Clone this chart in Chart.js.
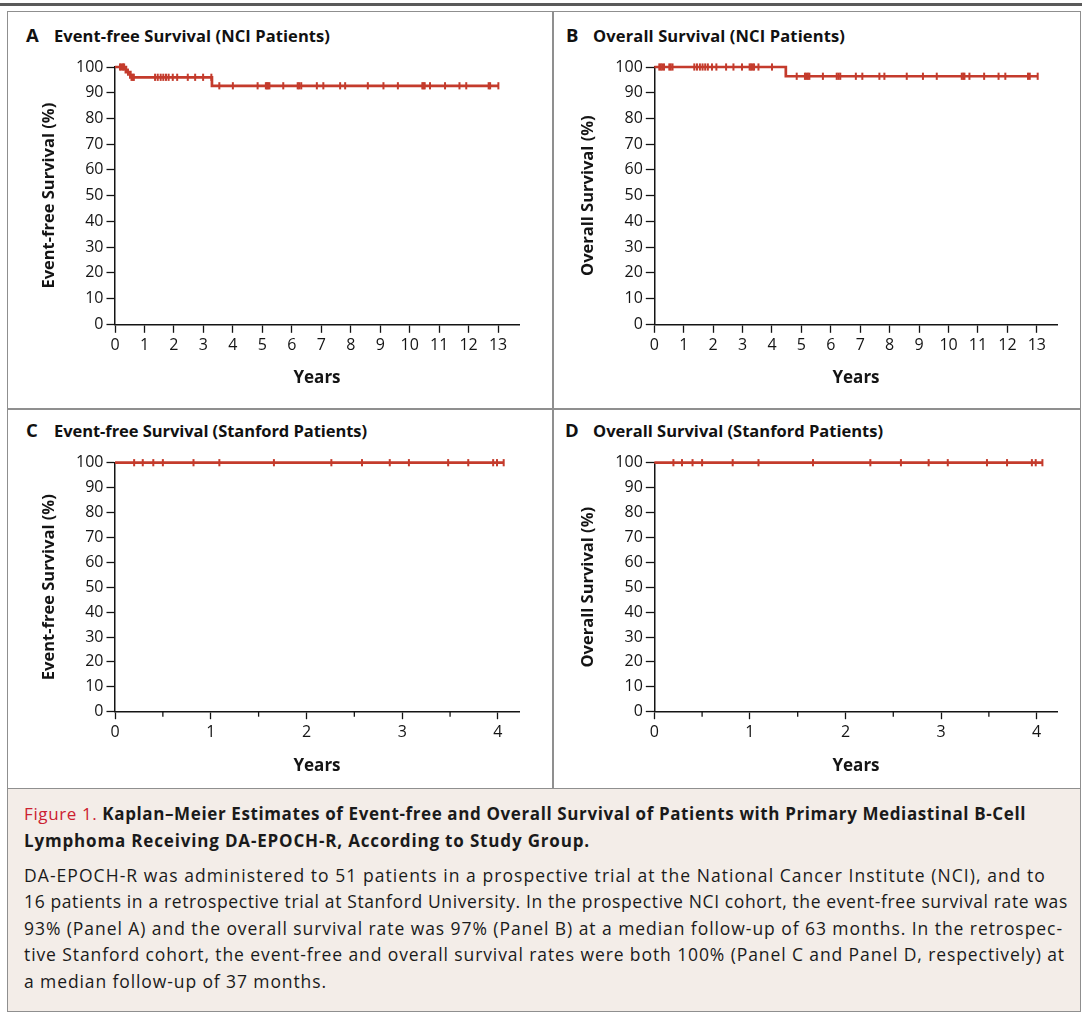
<!DOCTYPE html>
<html>
<head>
<meta charset="utf-8">
<script src="https://cdn.jsdelivr.net/npm/chart.js@4.4.1/dist/chart.umd.min.js"></script>
<style>
html,body{margin:0;padding:0;background:#fff;}
body{width:1082px;height:1012px;position:relative;overflow:hidden;font-family:"Open Sans",Lato,sans-serif;color:#111;}
#topbar{position:absolute;left:0;top:3px;width:1082px;height:3px;background:#5a5a5a;}
#frame{position:absolute;left:7px;top:11px;width:1074px;height:779px;border:1.5px solid #8f8f8f;box-sizing:border-box;}
#vdiv{position:absolute;left:552px;top:11px;width:2px;height:778px;background:#8f8f8f;}
#hdiv{position:absolute;left:7px;top:408px;width:1074px;height:2px;background:#8f8f8f;}
.ptitle{position:absolute;font-weight:700;font-size:16.5px;line-height:20px;white-space:nowrap;}
.ptitle .lt{font-size:18.5px;position:absolute;left:0;top:-1px;}
.ptitle .tx{position:absolute;white-space:nowrap;}
canvas{position:absolute;}
#caption{position:absolute;left:7px;top:788px;width:1074px;height:224px;background:#f3ede8;border:1.5px solid #8f8f8f;box-sizing:border-box;}
.cl{position:absolute;left:24px;font-size:17.5px;line-height:20px;white-space:nowrap;color:#1a1a1a;}
.hd{font-weight:700;font-size:17px;}
.red{color:#cc2131;font-weight:400;}
</style>
</head>
<body>
<div id="topbar"></div>
<div id="frame"></div>
<div id="vdiv"></div>
<div id="hdiv"></div>

<div class="ptitle" style="left:26px;top:26px;"><span class="lt">A</span><span class="tx" style="left:28px;" data-w="276">Event-free Survival (NCI Patients)</span></div>
<div class="ptitle" style="left:566px;top:26px;"><span class="lt">B</span><span class="tx" style="left:27px;" data-w="252">Overall Survival (NCI Patients)</span></div>
<div class="ptitle" style="left:26px;top:421px;"><span class="lt">C</span><span class="tx" style="left:28px;" data-w="313">Event-free Survival (Stanford Patients)</span></div>
<div class="ptitle" style="left:565px;top:421px;"><span class="lt">D</span><span class="tx" style="left:28px;" data-w="290">Overall Survival (Stanford Patients)</span></div>

<canvas id="cA" width="535" height="350" style="left:12px;top:50px;"></canvas>
<canvas id="cB" width="527" height="350" style="left:552px;top:50px;"></canvas>
<canvas id="cC" width="535" height="343" style="left:12px;top:445px;"></canvas>
<canvas id="cD" width="527" height="343" style="left:552px;top:445px;"></canvas>

<div id="caption"></div>
<div class="cl hd" style="top:804px;" data-w="1002"><span class="red">Figure 1.</span> Kaplan–Meier Estimates of Event-free and Overall Survival of Patients with Primary Mediastinal B-Cell</div>
<div class="cl hd" style="top:831px;" data-w="566">Lymphoma Receiving DA-EPOCH-R, According to Study Group.</div>
<div class="cl" style="top:865px;" data-w="1022">DA-EPOCH-R was administered to 51 patients in a prospective trial at the National Cancer Institute (NCI), and to</div>
<div class="cl" style="top:891px;" data-w="1044">16 patients in a retrospective trial at Stanford University. In the prospective NCI cohort, the event-free survival rate was</div>
<div class="cl" style="top:918px;" data-w="1039">93% (Panel A) and the overall survival rate was 97% (Panel B) at a median follow-up of 63 months. In the retrospec-</div>
<div class="cl" style="top:944px;" data-w="1041">tive Stanford cohort, the event-free and overall survival rates were both 100% (Panel C and Panel D, respectively) at</div>
<div class="cl" style="top:971px;" data-w="303">a median follow-up of 37 months.</div>

<script>
// ---------- DATA ----------
const yTicks = [0, 10, 20, 30, 40, 50, 60, 70, 80, 90, 100];
const xTicksNCI = [0, 1, 2, 3, 4, 5, 6, 7, 8, 9, 10, 11, 12, 13];
const xTicksStanford = [0, 1, 2, 3, 4];
const xMinorTicksStanford = [0.5, 1.5, 2.5, 3.5];

// Panel A: event-free survival, NCI (step times in years, survival %)
const aStepYears = [0, 0.37, 0.52, 3.29, 13.01];
const aSurvival  = [100, 98.0, 96.0, 92.7, 92.7];
const aCensorYears = [0.17, 0.22, 0.27, 0.31, 0.44, 0.56, 0.60, 0.64,
  1.36, 1.45, 1.55, 1.64, 1.73, 1.82, 1.96, 2.11, 2.47, 2.72, 2.99, 3.27,
  3.54, 4.00, 4.84, 5.12, 5.16, 5.20, 5.24, 5.71, 6.20, 6.25, 6.32, 6.85,
  7.07, 7.64, 7.81, 8.58, 9.11, 9.60, 10.43, 10.47, 10.51, 10.69, 11.20,
  11.69, 11.92, 12.68, 12.73, 13.01];

// Panel B: overall survival, NCI
const bStepYears = [0, 4.47, 13.03];
const bSurvival  = [100, 96.4, 96.4];
const bCensorYears = [0.17, 0.22, 0.27, 0.33, 0.51, 0.56, 0.62,
  1.36, 1.45, 1.55, 1.64, 1.73, 1.82, 1.96, 2.11, 2.44, 2.69, 2.98,
  3.24, 3.29, 3.34, 3.39, 3.54, 4.00,
  4.84, 5.12, 5.17, 5.22, 5.27, 5.73, 6.20, 6.26, 6.32, 6.85, 7.07, 7.65,
  7.82, 8.58, 9.13, 9.60, 10.45, 10.50, 10.54, 10.71, 11.21, 11.70, 11.93,
  12.70, 12.76, 13.03];

// Panel C: event-free survival, Stanford
const cStepYears = [0, 4.06];
const cSurvival  = [100, 100];
const cCensorYears = [0.20, 0.29, 0.40, 0.50, 0.82, 1.09, 1.66, 2.26, 2.58,
  2.87, 3.07, 3.48, 3.69, 3.95, 3.99, 4.06];

// Panel D: overall survival, Stanford
const dStepYears = [0, 4.06];
const dSurvival  = [100, 100];
const dCensorYears = [0.20, 0.29, 0.40, 0.50, 0.82, 1.09, 1.66, 2.26, 2.58,
  2.87, 3.07, 3.48, 3.69, 3.95, 3.99, 4.06];

// ---------- TEXT FITTING ----------
document.querySelectorAll('[data-w]').forEach(el => {
  const target = parseFloat(el.dataset.w);
  el.style.letterSpacing = '0px';
  const w = el.getBoundingClientRect().width;
  const n = el.textContent.length;
  el.style.letterSpacing = ((target - w) / n).toFixed(3) + 'px';
});

// ---------- DRAWING ----------
const RED = '#c43b2c';
const INK = '#141414';
const FONT = '"Open Sans", Lato, sans-serif';

function levelAt(steps, surv, t) {
  let v = surv[0];
  for (let i = 0; i < steps.length; i++) if (steps[i] <= t) v = surv[i];
  return v;
}

const minorTicks = {
  id: 'minorTicks',
  afterDraw(chart, args, opts) {
    if (!opts || !opts.values || !opts.values.length) return;
    const s = chart.scales.x, ctx = chart.ctx;
    ctx.save();
    ctx.strokeStyle = INK; ctx.lineWidth = 1.3;
    opts.values.forEach(v => {
      const px = s.getPixelForValue(v);
      ctx.beginPath(); ctx.moveTo(px, s.top); ctx.lineTo(px, s.top + opts.len); ctx.stroke();
    });
    ctx.restore();
  }
};

function kmChart(id, p) {
  const cv = document.getElementById(id);
  const cLeft = parseFloat(cv.style.left), cTop = parseFloat(cv.style.top);
  const cW = cv.width, cH = cv.height;
  const curve = p.steps.map((t, i) => ({x: t, y: p.surv[i]}));
  const censor = p.censor.map(t => ({x: t, y: levelAt(p.steps, p.surv, t)}));
  const titleSize = 16.5, titleLH = titleSize * 1.2;
  new Chart(cv, {
    type: 'line',
    data: {
      datasets: [
        {data: curve, stepped: true, borderColor: RED, borderWidth: 2.7,
         pointRadius: 0, fill: false, clip: false, order: 2},
        {data: censor, showLine: false, pointStyle: 'line', pointRotation: 90,
         pointRadius: 3.6, pointBorderColor: RED, pointBackgroundColor: RED,
         pointBorderWidth: 2, clip: false, order: 1}
      ]
    },
    options: {
      responsive: false, animation: false, devicePixelRatio: 1,
      layout: {padding: {left: 0, top: p.T - cTop, right: cLeft + cW - p.R, bottom: 0}},
      plugins: {legend: {display: false}, tooltip: {enabled: false},
                minorTicks: {values: p.minor || [], len: 5}},
      scales: {
        x: {
          type: 'linear', min: 0, max: p.xMax,
          afterBuildTicks: s => { s.ticks = p.xTicks.map(v => ({value: v})); },
          afterFit: s => { s.height = cTop + cH - p.B; },
          grid: {display: true, drawOnChartArea: false, drawTicks: true, tickLength: p.tickLen,
                 tickWidth: 1.3, tickColor: INK},
          border: {display: true, color: INK, width: 1.5},
          ticks: {autoSkip: false, maxRotation: 0, minRotation: 0, padding: 11.5 - p.tickLen, color: INK,
                  font: {family: FONT, size: 16}, callback: v => String(v)},
          title: {display: true, text: 'Years', color: INK,
                  font: {family: FONT, size: 17, weight: 'bold'},
                  padding: {top: 0, bottom: (cTop + cH - p.yearsY) - 17 * 1.2 / 2}}
        },
        y: {
          type: 'linear', min: 0, max: 100,
          afterBuildTicks: s => { s.ticks = yTicks.map(v => ({value: v})); },
          afterFit: s => { s.width = p.L - cLeft; },
          grid: {display: true, drawOnChartArea: false, drawTicks: true, tickLength: 8.5,
                 tickWidth: 1.3, tickColor: INK},
          border: {display: true, color: INK, width: 1.5},
          ticks: {autoSkip: false, padding: 3, color: INK,
                  font: {family: FONT, size: 16}, callback: v => String(v)},
          title: {display: true, text: p.yTitle, color: INK,
                  font: {family: FONT, size: titleSize, weight: 'bold'},
                  padding: {top: (p.yTitleX - cLeft) - titleLH / 2, bottom: 0}}
        }
      }
    },
    plugins: [minorTicks]
  });
}

kmChart('cA', {steps: aStepYears, surv: aSurvival, censor: aCensorYears,
  xTicks: xTicksNCI, xMax: 13.71, L: 115, R: 519, T: 67, B: 324.3, tickLen: 8.5,
  yearsY: 378, yTitleX: 49, yTitle: 'Event-free Survival (%)'});
kmChart('cB', {steps: bStepYears, surv: bSurvival, censor: bCensorYears,
  xTicks: xTicksNCI, xMax: 13.71, L: 654.3, R: 1057.7, T: 67, B: 324.3, tickLen: 8.5,
  yearsY: 378, yTitleX: 588.3, yTitle: 'Overall Survival (%)'});
kmChart('cC', {steps: cStepYears, surv: cSurvival, censor: cCensorYears,
  xTicks: xTicksStanford, minor: xMinorTicksStanford, xMax: 4.22, L: 115, R: 519, T: 462.7, B: 711.7, tickLen: 7.5,
  yearsY: 766, yTitleX: 49, yTitle: 'Event-free Survival (%)'});
kmChart('cD', {steps: dStepYears, surv: dSurvival, censor: dCensorYears,
  xTicks: xTicksStanford, minor: xMinorTicksStanford, xMax: 4.22, L: 654.3, R: 1057.7, T: 462.7, B: 711.7, tickLen: 7.5,
  yearsY: 766, yTitleX: 588.3, yTitle: 'Overall Survival (%)'});
</script>
</body>
</html>
